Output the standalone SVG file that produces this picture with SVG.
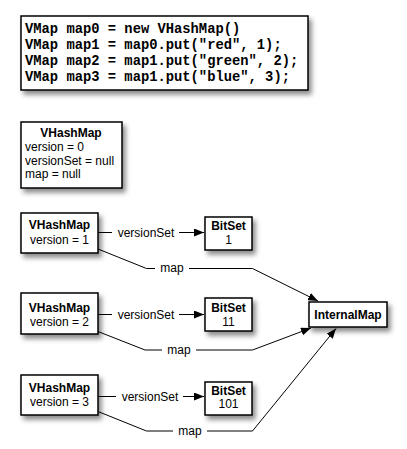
<svg xmlns="http://www.w3.org/2000/svg" width="407" height="449" viewBox="0 0 407 449">
<style>
.box{fill:#fff;stroke:#000;stroke-width:1.5;filter:url(#sh)}
.t{font-family:"Liberation Sans",Arial,sans-serif;font-size:12px;fill:#000}
.b{font-weight:bold}
.c{text-anchor:middle}
.code{font-family:"Liberation Mono","Courier New",monospace;font-weight:bold;font-size:13.8px;fill:#000}
.ln{fill:none;stroke:#000;stroke-width:1}
.lbl{fill:#fff;stroke:none}
</style>
<defs>
<filter id="sh" x="-20%" y="-20%" width="150%" height="160%">
<feDropShadow dx="3" dy="4" stdDeviation="2.5" flood-color="#000" flood-opacity="0.45"/>
</filter>
<marker id="ah" viewBox="0 0 10 8" refX="10" refY="4" markerWidth="10" markerHeight="8" markerUnits="userSpaceOnUse" orient="auto">
<path d="M0,0 L10,4 L0,8 Z" fill="#000"/>
</marker>
</defs>

<g id="code">
<rect class="box" x="21" y="16" width="287" height="74"/>
<text class="code" x="25" y="32.5">VMap map0 = new VHashMap()</text>
<text class="code" x="25" y="48.5">VMap map1 = map0.put("red", 1);</text>
<text class="code" x="25" y="64.5">VMap map2 = map1.put("green", 2);</text>
<text class="code" x="25" y="80.5">VMap map3 = map1.put("blue", 3);</text>
</g>

<g id="map0">
<rect class="box" x="21" y="122" width="101" height="66"/>
<text class="t b c" x="71" y="137">VHashMap</text>
<text class="t" x="25" y="151">version = 0</text>
<text class="t" x="25" y="164.5">versionSet = null</text>
<text class="t" x="25" y="178">map = null</text>
</g>

<g id="connectors">
<!-- map1 -->
<path class="ln" d="M98,232.5 H204" marker-end="url(#ah)"/>
<path class="ln" d="M98,249 L146.5,268.5 H252.5 L318,301" marker-end="url(#ah)"/>
<!-- map2 -->
<path class="ln" d="M98,314.5 H204" marker-end="url(#ah)"/>
<path class="ln" d="M98,331.5 L145,350 H252.5 L311,328" marker-end="url(#ah)"/>
<!-- map3 -->
<path class="ln" d="M98,396.5 H204" marker-end="url(#ah)"/>
<path class="ln" d="M98,411.5 L146.5,431 H252.5 L336,328.5" marker-end="url(#ah)"/>
<rect class="lbl" x="112" y="225" width="67" height="15"/>
<text class="t c" x="146" y="236.5">versionSet</text>
<rect class="lbl" x="155" y="261" width="34" height="15"/>
<text class="t c" x="172" y="272">map</text>
<rect class="lbl" x="112" y="307" width="67" height="15"/>
<text class="t c" x="146" y="318.5">versionSet</text>
<rect class="lbl" x="162" y="343" width="34" height="15"/>
<text class="t c" x="179" y="354">map</text>
<rect class="lbl" x="116" y="389" width="67" height="15"/>
<text class="t c" x="150" y="400.5">versionSet</text>
<rect class="lbl" x="173" y="424" width="34" height="15"/>
<text class="t c" x="190" y="435">map</text>
</g>

<g id="map1">
<rect class="box" x="21" y="213" width="77" height="40"/>
<text class="t b c" x="59.5" y="229">VHashMap</text>
<text class="t c" x="59.5" y="243.5">version = 1</text>
</g>
<g id="bitset1">
<rect class="box" x="205" y="217" width="47" height="33"/>
<text class="t b c" x="228.5" y="229.5">BitSet</text>
<text class="t c" x="228.5" y="243.5">1</text>
</g>

<g id="map2">
<rect class="box" x="21" y="293" width="77" height="41"/>
<text class="t b c" x="59.5" y="311.5">VHashMap</text>
<text class="t c" x="59.5" y="325.5">version = 2</text>
</g>
<g id="bitset2">
<rect class="box" x="205" y="298" width="47" height="33"/>
<text class="t b c" x="228.5" y="311.5">BitSet</text>
<text class="t c" x="228.5" y="325.5">11</text>
</g>

<g id="map3">
<rect class="box" x="21" y="375" width="77" height="40"/>
<text class="t b c" x="59.5" y="391.5">VHashMap</text>
<text class="t c" x="59.5" y="405.5">version = 3</text>
</g>
<g id="bitset3">
<rect class="box" x="205" y="382" width="47" height="33"/>
<text class="t b c" x="228.5" y="394.5">BitSet</text>
<text class="t c" x="228.5" y="408">101</text>
</g>

<g id="internalmap">
<rect class="box" x="309" y="302" width="78" height="25"/>
<text class="t b c" x="348" y="318.5">InternalMap</text>
</g>
</svg>
